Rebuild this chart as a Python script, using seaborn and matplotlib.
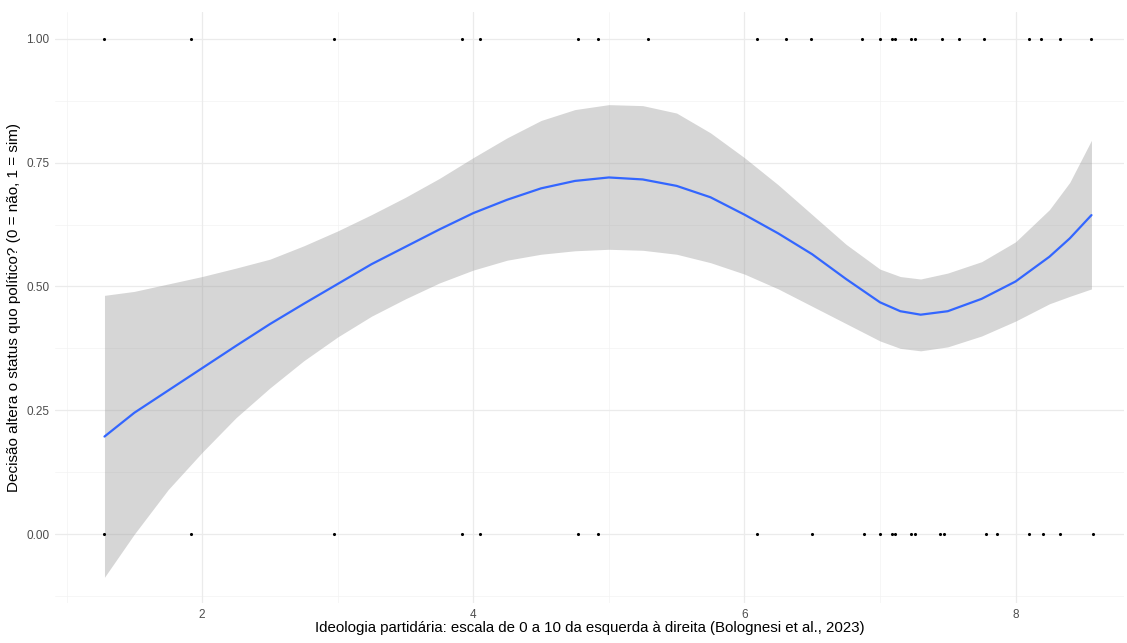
import numpy as np
import pandas as pd
import matplotlib
matplotlib.use("Agg")
import matplotlib.pyplot as plt
import seaborn as sns

# Observed points (party ideology vs. outcome)
x_yes = [1.28, 1.92, 2.97, 3.92, 4.05, 4.77, 4.92, 5.29, 6.09, 6.31, 6.49, 6.87,
         7.00, 7.09, 7.11, 7.23, 7.26, 7.46, 7.58, 7.77, 8.10, 8.19, 8.33, 8.56]
x_no = [1.28, 1.92, 2.97, 3.92, 4.05, 4.77, 4.92, 6.09, 6.50, 6.88, 7.00, 7.09,
        7.11, 7.23, 7.26, 7.44, 7.47, 7.78, 7.86, 8.10, 8.20, 8.33, 8.57]

# Smoothed fit with confidence band
fit_x = [1.28, 1.5, 1.75, 2.0, 2.25, 2.5, 2.75, 3.0, 3.25, 3.5, 3.75, 4.0,
         4.25, 4.5, 4.75, 5.0, 5.25, 5.5, 5.75, 6.0, 6.25, 6.5, 6.75, 7.0,
         7.15, 7.3, 7.5, 7.75, 8.0, 8.25, 8.4, 8.56]
fit_y = [0.197, 0.245, 0.29, 0.335, 0.38, 0.424, 0.465, 0.505, 0.545, 0.58,
         0.615, 0.648, 0.675, 0.698, 0.713, 0.720, 0.716, 0.703, 0.68, 0.645,
         0.607, 0.565, 0.515, 0.468, 0.450, 0.443, 0.450, 0.475, 0.51, 0.56,
         0.597, 0.644]
fit_hi = [0.482, 0.49, 0.505, 0.52, 0.537, 0.555, 0.582, 0.612, 0.645, 0.68,
          0.718, 0.76, 0.80, 0.835, 0.857, 0.867, 0.865, 0.85, 0.81, 0.76,
          0.705, 0.645, 0.585, 0.535, 0.52, 0.515, 0.527, 0.55, 0.59, 0.655,
          0.71, 0.795]
fit_lo = [-0.087, 0.0, 0.09, 0.165, 0.235, 0.295, 0.35, 0.398, 0.44, 0.475,
          0.507, 0.533, 0.553, 0.565, 0.572, 0.575, 0.573, 0.565, 0.548, 0.525,
          0.495, 0.46, 0.425, 0.39, 0.375, 0.37, 0.378, 0.40, 0.43, 0.465,
          0.48, 0.495]

xlabel = "Ideologia partidária: escala de 0 a 10 da esquerda à direita (Bolognesi et al., 2023)"
ylabel = "Decisão altera o status quo político? (0 = não, 1 = sim)"
xticks = [2, 4, 6, 8]
yticks = [0.0, 0.25, 0.5, 0.75, 1.0]
ytick_labels = ["0.00", "0.25", "0.50", "0.75", "1.00"]

sns.set_theme(style="white")
plt.rcParams['font.family'] = ['Liberation Sans', 'DejaVu Sans']

pts = pd.DataFrame({
    "x": x_yes + x_no,
    "y": [1.0] * len(x_yes) + [0.0] * len(x_no),
})
fit = pd.DataFrame({"x": fit_x, "y": fit_y, "lo": fit_lo, "hi": fit_hi})

fig = plt.figure(figsize=(11.27, 6.43), dpi=100)
ax = fig.add_axes([55 / 1127, 40 / 643, (1124 - 55) / 1127, (631 - 40) / 643])

# grid
for v in [1, 3, 5, 7]:
    ax.axvline(v, color="#F3F3F3", lw=0.5, zorder=0)
for v in [-0.125, 0.125, 0.375, 0.625, 0.875]:
    ax.axhline(v, color="#F3F3F3", lw=0.5, zorder=0)
for v in xticks:
    ax.axvline(v, color="#EBEBEB", lw=0.9, zorder=0)
for v in yticks:
    ax.axhline(v, color="#EBEBEB", lw=0.9, zorder=0)

ax.fill_between(fit["x"], fit["lo"], fit["hi"], color="#999999", alpha=0.4,
                linewidth=0, zorder=1)
sns.scatterplot(data=pts, x="x", y="y", ax=ax, color="black", s=5,
                linewidth=0, zorder=3, legend=False)
sns.lineplot(data=fit, x="x", y="y", ax=ax, color="#3366FF", lw=1.6,
             zorder=2, legend=False)

ax.set_xlim(0.915, 8.80)
ax.set_ylim(-0.139, 1.054)
ax.set_xticks(xticks)
ax.set_xticklabels([str(t) for t in xticks])
ax.set_yticks(yticks)
ax.set_yticklabels(ytick_labels)
ax.tick_params(axis="both", length=0, labelsize=8.5, labelcolor="#4D4D4D", pad=4)
for s in ax.spines.values():
    s.set_visible(False)
ax.set_xlabel(xlabel, fontsize=10.8, color="black", labelpad=0)
ax.set_ylabel(ylabel, fontsize=11, color="black", labelpad=4)
ax.grid(False)

fig.savefig("out.png", dpi=100)
